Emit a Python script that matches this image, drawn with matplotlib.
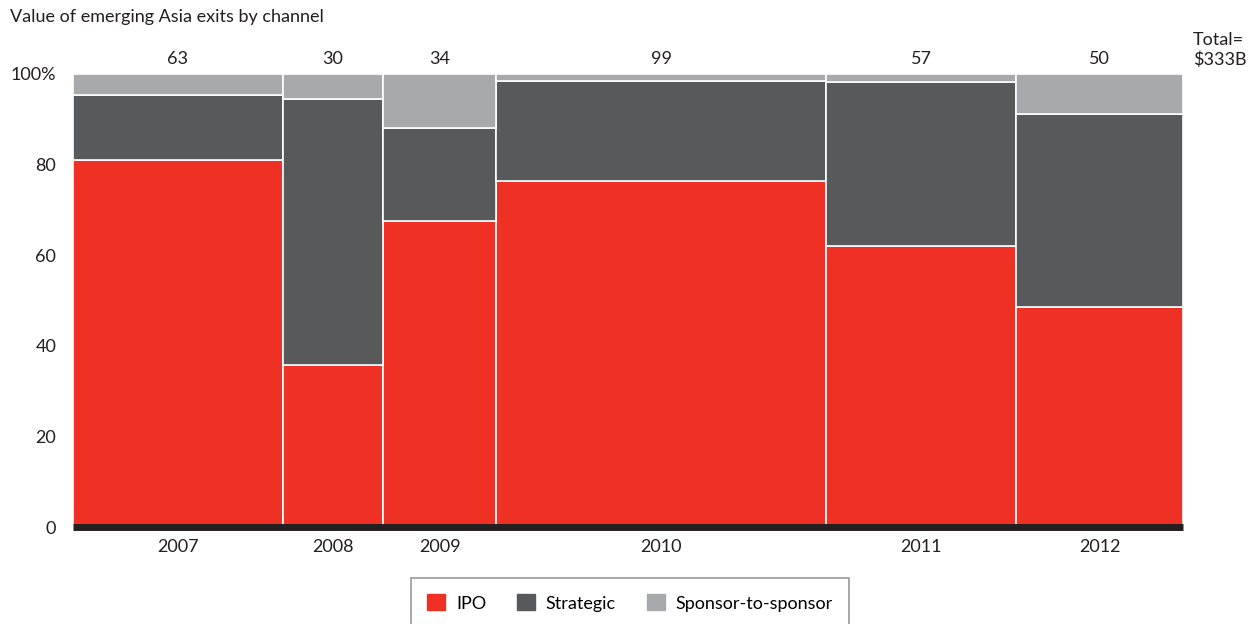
import matplotlib
matplotlib.use("Agg")
import matplotlib.pyplot as plt
from matplotlib.patches import Patch
import numpy as np

plt.rcParams["font.family"] = ["Lato", "DejaVu Sans"]

RED = "#EE3124"; DARK = "#58595B"; LIGHT = "#A7A9AC"; INK = "#231F20"

years = ["2007", "2008", "2009", "2010", "2011", "2012"]
totals = [63, 30, 34, 99, 57, 50]          # $B, column widths
ipo = [81.0, 35.8, 67.5, 76.4, 62.0, 48.6]   # % share
strategic = [14.4, 58.7, 20.6, 22.1, 36.2, 42.6]
sponsor = [100 - a - b for a, b in zip(ipo, strategic)]

widths = np.array(totals, dtype=float)
lefts = np.concatenate([[0], np.cumsum(widths)[:-1]])
centers = lefts + widths / 2
total_sum = widths.sum()

fig = plt.figure(figsize=(12.57, 6.24), dpi=100)
ax = fig.add_axes([73 / 1257, (624 - 527) / 624, 1110 / 1257, 453 / 624])

bottom = np.zeros(len(years))
for vals, col, lab in [(ipo, RED, "IPO"), (strategic, DARK, "Strategic"),
                       (sponsor, LIGHT, "Sponsor-to-sponsor")]:
    ax.bar(lefts, vals, widths, bottom=bottom, align="edge", color=col,
           edgecolor="white", linewidth=1.2, label=lab)
    bottom += np.array(vals)

ax.set_xlim(0, total_sum)
ax.set_ylim(0, 100)
for s in ["top", "right", "left"]:
    ax.spines[s].set_visible(False)
ax.spines["bottom"].set_linewidth(5)
ax.spines["bottom"].set_color(INK)
ax.spines["bottom"].set_capstyle("butt")
ax.set_xticks(centers)
ax.set_xticklabels(years, fontsize=13, color=INK)
ax.tick_params(axis="x", length=0, pad=9)
ax.set_yticks([0, 20, 40, 60, 80, 100])
ax.set_yticklabels(["0", "20", "40", "60", "80", "100%"], fontsize=13, color=INK)
ax.tick_params(axis="y", length=0, pad=12)

for c, t in zip(centers, totals):
    ax.text(c, 103.3, str(t), ha="center", va="center", fontsize=13, color=INK)
ax.text(total_sum + 3, 101.3, "Total=\n$333B", ha="left", va="bottom", fontsize=13,
        color=INK, linespacing=1.3)

fig.text(10 / 1257, 1 - 17 / 624, "Value of emerging Asia exits by channel",
         ha="left", va="center", fontsize=13, color=INK)

handles = [Patch(color=RED, label="IPO"), Patch(color=DARK, label="Strategic"),
           Patch(color=LIGHT, label="Sponsor-to-sponsor")]
leg = fig.legend(handles=handles, loc="upper center", bbox_to_anchor=(630 / 1257, 1 - 578 / 624),
                 ncol=3, fontsize=13, frameon=True, fancybox=False, edgecolor="#808080",
                 handlelength=1.0, handleheight=1.0, columnspacing=1.7, borderpad=0.9,
                 handletextpad=0.6, borderaxespad=0)
leg.get_frame().set_linewidth(1.2)

fig.savefig("out.png", dpi=100)
